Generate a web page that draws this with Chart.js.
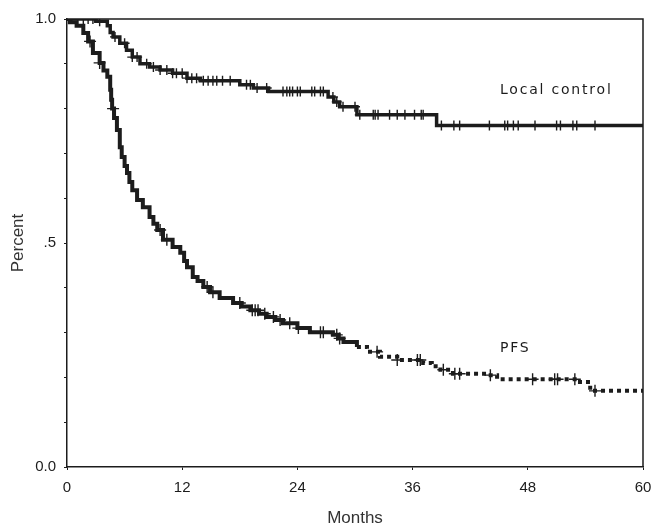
<!DOCTYPE html>
<html>
<head>
<meta charset="utf-8">
<script src="https://cdn.jsdelivr.net/npm/chart.js@4.4.1/dist/chart.umd.min.js"></script>
<style>
  html, body { margin: 0; padding: 0; background: #fff; }
  #wrap { width: 652px; height: 526px; }
</style>
</head>
<body>
<div id="wrap"><canvas id="kmChart"></canvas></div>
<script>
// Kaplan-Meier estimates: month of each step and the value after it
const lcMonths = [0, 3.0, 4.2, 4.5, 4.8, 5.5, 6.2, 6.8, 7.6, 8.6, 9.7, 11.0, 12.5, 13.9, 18.0, 19.4, 21.0, 27.2, 27.8, 28.4, 30.2, 38.5, 60];
const lcValues = [1.0, 0.995, 0.985, 0.97, 0.96, 0.946, 0.93, 0.915, 0.90, 0.893, 0.886, 0.879, 0.868, 0.862, 0.853, 0.846, 0.838, 0.826, 0.815, 0.804, 0.786, 0.762, 0.762];

const pfsMonths = [0, 0.3, 1.0, 1.7, 2.2, 2.7, 3.4, 3.8, 4.2, 4.5, 4.6, 4.7, 4.9, 5.2, 5.5, 5.7, 6.0, 6.25, 6.5, 6.8, 7.3, 7.9, 8.6, 9.0, 9.4, 10.0, 11.0, 11.8, 12.2, 12.5, 13.1, 13.6, 14.2, 14.9, 15.9, 17.3, 18.2, 19.1, 20.0, 20.8, 21.7, 22.5, 24.0, 25.3, 27.7, 28.3, 28.8, 30.2, 31.25, 32.6, 34.4, 37.1, 38.0, 38.9, 40.2, 43.7, 44.8, 53.1, 54.5, 60];
const pfsValues = [1.0, 0.993, 0.985, 0.969, 0.95, 0.924, 0.902, 0.885, 0.871, 0.842, 0.82, 0.80, 0.779, 0.752, 0.714, 0.692, 0.672, 0.656, 0.636, 0.618, 0.596, 0.58, 0.558, 0.543, 0.529, 0.507, 0.491, 0.478, 0.46, 0.446, 0.424, 0.415, 0.402, 0.39, 0.377, 0.366, 0.358, 0.35, 0.342, 0.335, 0.328, 0.321, 0.31, 0.301, 0.295, 0.287, 0.279, 0.268, 0.257, 0.246, 0.239, 0.232, 0.225, 0.217, 0.208, 0.205, 0.196, 0.19, 0.17, 0.17];

// censored observations (months)
const lcCensored = [0.5, 1.1, 1.7, 2.2, 2.7, 3.4, 5.0, 6.0, 6.8, 7.3, 8.3, 9.0, 9.7, 10.4, 11.0, 11.4, 12.0, 12.5, 13.0, 13.5, 14.2, 14.7, 15.2, 15.6, 16.2, 17.0, 18.7, 19.1, 19.8, 20.8, 22.5, 22.9, 23.2, 23.5, 24.0, 24.3, 25.5, 25.8, 26.4, 26.7, 27.7, 28.1, 28.75, 30.0, 30.5, 31.9, 32.1, 32.4, 33.6, 34.4, 35.2, 36.2, 36.9, 37.1, 39.0, 40.3, 40.9, 44.0, 45.6, 45.9, 46.5, 47.0, 48.75, 51.0, 51.4, 52.7, 53.1, 55.0];
const pfsCensored = [2.4, 3.4, 4.8, 9.7, 10.4, 14.6, 15.2, 18.0, 19.3, 19.6, 19.9, 20.6, 21.5, 22.2, 23.2, 24.1, 26.4, 26.7, 28.1, 28.4, 32.3, 34.4, 36.5, 36.8, 39.2, 40.4, 40.9, 44.1, 48.5, 50.8, 51.1, 52.9, 55.0];

const xTickValues = [0, 12, 24, 36, 48, 60];
const yTickValues = [0, 0.5, 1];
const yTickLabels = ['0.0', '.5', '1.0'];

const ink = '#1c1c1c';

function toPoints(xs, ys) {
    return xs.map((m, i) => ({ x: m, y: ys[i] }));
}

// value of the step curve at month t
function stepValue(xs, ys, t) {
    let v = ys[0];
    for (let i = 0; i < xs.length; i++) {
        if (xs[i] <= t) v = ys[i];
    }
    return v;
}

function censorPoints(times, xs, ys) {
    return times.map(t => ({ x: t, y: stepValue(xs, ys, t) }));
}

const frameAndLabels = {
    id: 'frameAndLabels',
    afterDatasetsDraw(chart) {
        const { ctx, chartArea: a, scales: { x, y } } = chart;
        ctx.save();
        ctx.strokeStyle = ink;
        ctx.lineWidth = 1.5;
        ctx.beginPath();
        ctx.moveTo(a.left, a.top);
        ctx.lineTo(a.right, a.top);
        ctx.lineTo(a.right, a.bottom);
        ctx.stroke();

        ctx.fillStyle = ink;
        ctx.font = '14px "DejaVu Sans"';
        ctx.letterSpacing = '1.8px';
        ctx.textBaseline = 'alphabetic';
        ctx.fillText('Local control', x.getPixelForValue(45.1), y.getPixelForValue(0.833));
        ctx.fillText('PFS', x.getPixelForValue(45.1), y.getPixelForValue(0.257));
        ctx.restore();
    }
};

const ctx = document.getElementById('kmChart');

new Chart(ctx, {
    type: 'scatter',
    data: {
        datasets: [
            {
                type: 'line',
                label: 'Local control',
                data: toPoints(lcMonths, lcValues),
                stepped: true,
                borderColor: ink,
                borderWidth: 3.5,
                pointRadius: 0,
                fill: false
            },
            {
                type: 'line',
                label: 'PFS',
                data: toPoints(pfsMonths, pfsValues),
                stepped: true,
                borderColor: ink,
                borderWidth: 4,
                pointRadius: 0,
                fill: false,
                segment: {
                    borderDash: c => c.p0.parsed.x >= 29 ? [4, 4] : undefined
                }
            },
            {
                label: 'Local control censored',
                data: censorPoints(lcCensored, lcMonths, lcValues),
                pointStyle: 'cross',
                pointRadius: 5,
                borderColor: ink,
                borderWidth: 1.4,
                backgroundColor: ink
            },
            {
                label: 'PFS censored',
                data: censorPoints(pfsCensored, pfsMonths, pfsValues),
                pointStyle: 'cross',
                pointRadius: 6,
                borderColor: ink,
                borderWidth: 1.4,
                backgroundColor: ink
            }
        ]
    },
    options: {
        responsive: true,
        maintainAspectRatio: false,
        animation: false,
        devicePixelRatio: 1,
        layout: {
            padding: { top: 19, right: 9, left: 0, bottom: 0 }
        },
        scales: {
            x: {
                type: 'linear',
                min: 0,
                max: 60,
                afterFit: s => {
                    s.height = 59;
                    s.paddingLeft = 0;
                    s.paddingRight = 0;
                },
                afterBuildTicks: s => { s.ticks = xTickValues.map(v => ({ value: v })); },
                border: { color: ink, width: 1.5 },
                grid: { drawOnChartArea: false, tickLength: 3, color: ink },
                ticks: {
                    color: ink,
                    padding: 9,
                    font: { family: '"Liberation Sans Narrow", "Liberation Sans"', size: 15 }
                },
                title: {
                    display: true,
                    text: 'Months',
                    color: '#333',
                    padding: { top: 0, bottom: -3 },
                    font: { family: '"Liberation Sans", Arial', size: 17 }
                }
            },
            y: {
                min: 0,
                max: 1,
                afterFit: s => {
                    s.width = 67;
                    s.paddingTop = 0;
                    s.paddingBottom = 0;
                },
                border: { color: ink, width: 1.5 },
                grid: { drawOnChartArea: false, tickLength: 3, color: ink },
                ticks: {
                    stepSize: 0.1,
                    autoSkip: false,
                    color: ink,
                    padding: 8,
                    font: { family: '"Liberation Sans Narrow", "Liberation Sans"', size: 15 },
                    callback: v => {
                        const i = yTickValues.findIndex(t => Math.abs(t - v) < 1e-6);
                        return i >= 0 ? yTickLabels[i] : '';
                    }
                },
                title: {
                    display: true,
                    text: 'Percent',
                    color: '#333',
                    padding: { top: 8, bottom: 0 },
                    font: { family: '"Liberation Sans", Arial', size: 17 }
                }
            }
        },
        plugins: {
            legend: { display: false },
            tooltip: { enabled: false }
        }
    },
    plugins: [frameAndLabels]
});
</script>
</body>
</html>
